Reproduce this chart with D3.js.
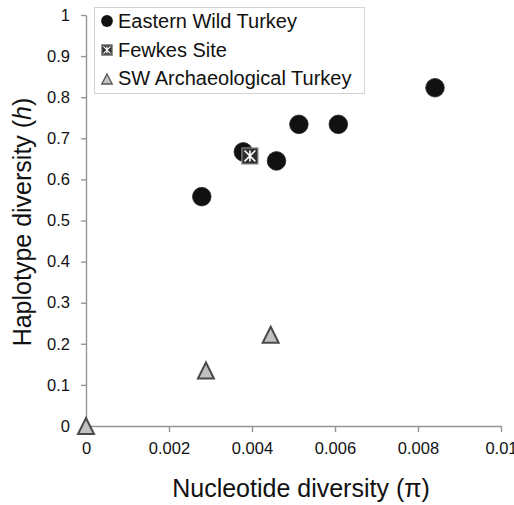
<!DOCTYPE html>
<html><head><meta charset="utf-8">
<script src="https://cdn.jsdelivr.net/npm/d3@7"></script>
<style>body{margin:0;background:#fff}svg{display:block}text{font-family:Arial,"Liberation Sans",sans-serif}</style>
</head><body><svg id="c" width="514" height="505"></svg>
<script>
const easternX = [0.00279, 0.00379, 0.00459, 0.00513, 0.00608, 0.00841];
const easternY = [0.558, 0.667, 0.645, 0.734, 0.734, 0.823];
const fewkesX = [0.00395];
const fewkesY = [0.657];
const swX = [0, 0.00289, 0.00445];
const swY = [0, 0.135, 0.222];
const xTicks = [0, 0.002, 0.004, 0.006, 0.008, 0.01];
const yTicks = [0, 0.1, 0.2, 0.3, 0.4, 0.5, 0.6, 0.7, 0.8, 0.9, 1];
const legendLabels = ["Eastern Wild Turkey", "Fewkes Site", "SW Archaeological Turkey"];

const svg = d3.select("#c");
const x = d3.scaleLinear().domain([0, 0.01]).range([86, 501]);
const y = d3.scaleLinear().domain([0, 1]).range([426, 15]);
const axisColor = "#959595";
const fmt = d => d === 0 ? "0" : String(+d.toFixed(3));

const xa = svg.append("g").attr("transform", `translate(0,${y(0)})`)
  .call(d3.axisBottom(x).tickValues(xTicks).tickSize(6).tickSizeOuter(0).tickFormat(fmt));
const ya = svg.append("g").attr("transform", `translate(${x(0)},0)`)
  .call(d3.axisLeft(y).tickValues(yTicks).tickSize(5).tickSizeOuter(0).tickFormat(fmt));
[xa, ya].forEach(g => {
  g.select(".domain").attr("stroke", axisColor).attr("stroke-width", 1.4);
  g.selectAll(".tick line").attr("stroke", axisColor).attr("stroke-width", 1.4);
  g.selectAll(".tick text").attr("fill", "#111").style("font-size", "16.5px").style("font-family", "Arial, 'Liberation Sans', sans-serif");
});
xa.selectAll(".tick text").attr("dy", "0.71em").attr("y", 16.3);
ya.selectAll(".tick text").attr("x", -16);

// Axis titles
svg.append("text").attr("x", 301).attr("y", 497).attr("text-anchor", "middle")
  .style("font-size", "25px").attr("fill", "#111").text("Nucleotide diversity (π)");
const yt = svg.append("text").attr("transform", `translate(31,222) rotate(-90)`).attr("text-anchor", "middle")
  .style("font-size", "25px").attr("fill", "#111");
yt.append("tspan").text("Haplotype diversity (");
yt.append("tspan").attr("font-style", "italic").text("h");
yt.append("tspan").text(")");

// Markers
function tri(cx, cy, w, h) {
  return `M${cx},${cy - h / 2}L${cx + w / 2},${cy + h / 2}L${cx - w / 2},${cy + h / 2}Z`;
}
function fewkes(g, cx, cy, s) {
  const h = s / 2;
  g.append("rect").attr("x", cx - h).attr("y", cy - h).attr("width", s).attr("height", s)
    .attr("fill", "#2e2e2e").attr("stroke", "#8a8a8a").attr("stroke-width", 1.2);
  const p = s * 0.34;
  g.append("path").attr("d", `M${cx - p},${cy - p}L${cx + p},${cy + p}M${cx + p},${cy - p}L${cx - p},${cy + p}M${cx},${cy - p}L${cx},${cy + p}`)
    .attr("stroke", "#fff").attr("stroke-width", Math.max(1.2, s * 0.1));
}

const pts = svg.append("g");
pts.selectAll("circle.e").data(easternX.map((d, i) => [d, easternY[i]])).join("circle")
  .attr("class", "e").attr("cx", d => x(d[0])).attr("cy", d => y(d[1])).attr("r", 9.3)
  .attr("fill", "#111").attr("stroke", "#2a2a2a").attr("stroke-width", 0.8);
pts.selectAll("path.s").data(swX.map((d, i) => [d, swY[i]])).join("path")
  .attr("class", "s").attr("d", d => tri(x(d[0]), y(d[1]), 16, 16))
  .attr("fill", "#c0c0c0").attr("stroke", "#4a4a4a").attr("stroke-width", 2).attr("stroke-linejoin", "miter");
fewkesX.forEach((d, i) => fewkes(pts, x(d), y(fewkesY[i]), 16));

// Legend
const lg = svg.append("g");
lg.append("rect").attr("x", 94.5).attr("y", 7.5).attr("width", 270).attr("height", 86)
  .attr("fill", "#fff").attr("stroke", "#d3d3d3").attr("stroke-width", 1);
const rowY = [21, 50, 78];
lg.append("circle").attr("cx", 107).attr("cy", rowY[0]).attr("r", 5.9).attr("fill", "#111");
fewkes(lg, 107, rowY[1], 10.5);
lg.append("path").attr("d", tri(107, rowY[2] + 1, 10.5, 10)).attr("fill", "#c0c0c0").attr("stroke", "#555").attr("stroke-width", 1.3);
lg.selectAll("text.l").data(legendLabels).join("text").attr("class", "l")
  .attr("x", 118).attr("y", (d, i) => rowY[i]).attr("dy", "0.36em")
  .style("font-size", "20px").attr("fill", "#111").text(d => d);
</script></body></html>
